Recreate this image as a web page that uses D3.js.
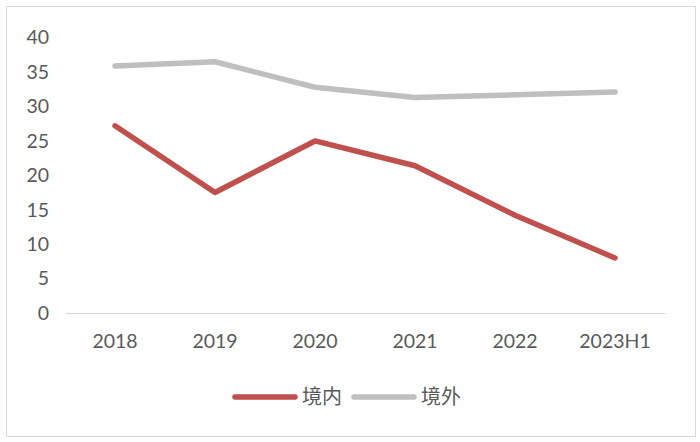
<!DOCTYPE html>
<html>
<head>
<meta charset="utf-8">
<script src="https://cdn.jsdelivr.net/npm/d3@7"></script>
<style>
  body { margin: 0; background: #fff; }
  svg text { font-family: Lato, "Liberation Sans", sans-serif; fill: #595959; }
  .cjk { font-family: "Noto Sans CJK SC", sans-serif; }
</style>
</head>
<body>
<div id="chart"></div>
<script>
// categories and values
var years = ["2018", "2019", "2020", "2021", "2022", "2023H1"];
var domestic = [27.2, 17.5, 25.0, 21.4, 14.2, 8.0];   // 境内
var overseas = [35.9, 36.5, 32.8, 31.3, 31.7, 32.1];  // 境外
var yTicks = [0, 5, 10, 15, 20, 25, 30, 35, 40];
var seriesNames = ["境内", "境外"];
var colors = ["#C0504D", "#BFBFBF"];

var width = 700, height = 442;

var svg = d3.select("#chart").append("svg")
    .attr("width", width)
    .attr("height", height);

// outer frame
svg.append("rect")
    .attr("x", 6.5).attr("y", 6.5)
    .attr("width", 689).attr("height", 430)
    .attr("fill", "#fff")
    .attr("stroke", "#D9D9D9")
    .attr("stroke-width", 1);

var x = d3.scaleBand().domain(years).range([65, 665]);
var y = d3.scaleLinear().domain([0, 40]).range([313, 37.7]);

// y axis labels, no line
var yAxis = svg.append("g")
    .attr("transform", "translate(65,0)")
    .call(d3.axisLeft(y).tickValues(yTicks).tickSize(0).tickPadding(16));
yAxis.select(".domain").remove();
yAxis.selectAll("text").style("font-size", "19.5px").attr("fill", "#595959");

// x axis
var xAxis = svg.append("g")
    .attr("transform", "translate(0,313)")
    .call(d3.axisBottom(x).tickSize(0).tickPadding(21));
xAxis.select(".domain").attr("stroke", "#D9D9D9").attr("stroke-width", 1);
xAxis.selectAll("text").style("font-size", "19.5px").attr("fill", "#595959");

var line = d3.line()
    .x(function(d, i) { return x(years[i]) + x.bandwidth() / 2; })
    .y(function(d) { return y(d); });

[domestic, overseas].forEach(function(s, i) {
  svg.append("path")
      .datum(s)
      .attr("d", line)
      .attr("fill", "none")
      .attr("stroke", colors[i])
      .attr("stroke-width", 5.5)
      .attr("stroke-linecap", "round")
      .attr("stroke-linejoin", "round");
});

// legend
var legendX = [235, 354];
seriesNames.forEach(function(name, i) {
  var g = svg.append("g").attr("transform", "translate(" + legendX[i] + ",397)");
  g.append("line")
      .attr("x1", 0).attr("x2", 60)
      .attr("stroke", colors[i])
      .attr("stroke-width", 5.5)
      .attr("stroke-linecap", "round");
  g.append("text")
      .attr("class", "cjk")
      .attr("x", 67).attr("y", 0)
      .attr("dy", "0.35em")
      .style("font-size", "20px")
      .text(name);
});
</script>
</body>
</html>
